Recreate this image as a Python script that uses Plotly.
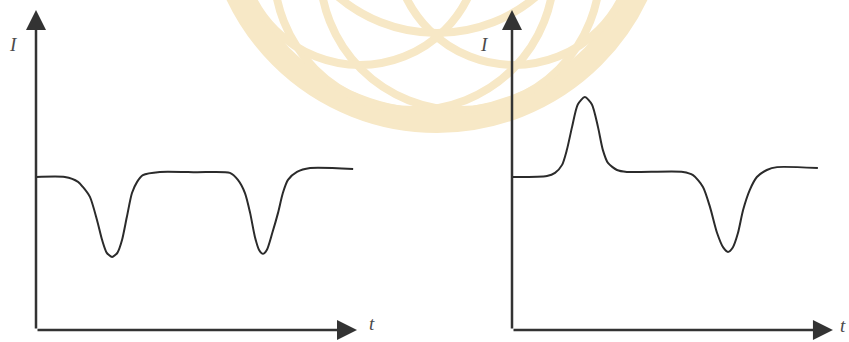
import plotly.graph_objects as go

W, H = 849, 342

# left panel: intensity with two dips
t_left = [0.0, 0.90, 1.31, 1.46, 1.68, 1.90, 2.06, 2.20, 2.37, 2.54, 2.68,
          2.83, 2.99, 3.15, 3.33, 3.86, 5.00, 6.04, 6.29, 6.51, 6.67, 6.82,
          6.95, 7.07, 7.19, 7.36, 7.54, 7.69, 7.85, 8.13, 8.54, 9.88]
i_left = [4.78, 4.78, 4.63, 4.47, 4.16, 3.44, 2.81, 2.42, 2.28, 2.42, 2.81,
          3.53, 4.28, 4.63, 4.84, 4.94, 4.93, 4.91, 4.69, 4.28, 3.66, 2.91,
          2.50, 2.38, 2.50, 3.03, 3.66, 4.28, 4.69, 4.94, 5.06, 5.03]

# right panel: one peak then one dip
t_right = [0.0, 1.09, 1.34, 1.56, 1.71, 1.87, 2.05, 2.27, 2.49, 2.68, 2.83,
           2.99, 3.27, 3.58, 5.33, 5.64, 5.95, 6.17, 6.39, 6.58, 6.73, 6.88,
           7.04, 7.20, 7.41, 7.63, 7.94, 8.26, 9.53]
i_right = [4.78, 4.81, 4.91, 5.16, 5.63, 6.34, 7.05, 7.28, 7.05, 6.34, 5.63,
           5.22, 5.00, 4.94, 4.94, 4.84, 4.47, 3.84, 3.03, 2.58, 2.44, 2.58,
           3.03, 3.75, 4.38, 4.78, 5.00, 5.09, 5.06]

axis_len = 10.0
axis_label_y = 'I'
axis_label_x = 't'

# pixel placement of each panel origin (x px, y px) and scale (px per unit)
origins = [(36, 330), (512, 330)]
# label centres relative to origin, px: (I label), (t label)
label_offsets = [((-23, -285), (336, -7)), ((-27, -285), (331, -5))]
sx, sy = 32.1, 32.0
pad_x, pad_y = 0.5, 0.3


def xdomain(ox):
    return [max((ox - pad_x * sx) / W, 0), min((ox + (axis_len + pad_x) * sx) / W, 1)]


def ydomain(oy):
    return [max(1 - (oy + pad_y * sy) / H, 0), min(1 - (oy - (axis_len + pad_y) * sy) / H, 1)]


fig = go.Figure()

line_style = dict(color='#2b2b2b', width=2, shape='spline', smoothing=0.7)
fig.add_trace(go.Scatter(x=t_left, y=i_left, mode='lines', line=line_style,
                         xaxis='x', yaxis='y', cliponaxis=False, hoverinfo='skip'))
fig.add_trace(go.Scatter(x=t_right, y=i_right, mode='lines', line=line_style,
                         xaxis='x2', yaxis='y2', cliponaxis=False, hoverinfo='skip'))

hidden = dict(visible=False, fixedrange=True)
fig.update_layout(
    xaxis=dict(domain=xdomain(origins[0][0]), range=[-pad_x, axis_len + pad_x], anchor='y', **hidden),
    yaxis=dict(domain=ydomain(origins[0][1]), range=[-pad_y, axis_len + pad_y], anchor='x', **hidden),
    xaxis2=dict(domain=xdomain(origins[1][0]), range=[-pad_x, axis_len + pad_x], anchor='y2', **hidden),
    yaxis2=dict(domain=ydomain(origins[1][1]), range=[-pad_y, axis_len + pad_y], anchor='x2', **hidden),
)

# watermark (faint logo behind the plots), in pixel units
def circle(cx, cy, r, w):
    return dict(type='circle', xref='paper', yref='paper', layer='below',
                x0=(cx - r) / W, x1=(cx + r) / W,
                y0=1 - (cy + r) / H, y1=1 - (cy - r) / H,
                line=dict(color='#f7e8c6', width=w))

shapes = [
    circle(437, -100, 221, 24),
    circle(460, -30, 140, 8),
    circle(414, -30, 140, 8),
    circle(360, -55, 120, 8),
    circle(514, -55, 120, 8),
    circle(437, -120, 153, 8),
]

annotations = []
for k, (ox, oy) in enumerate(origins):
    xr = 'x' if k == 0 else 'x2'
    yr = 'y' if k == 0 else 'y2'
    arrow = dict(xref=xr, yref=yr, axref=xr, ayref=yr, text='', showarrow=True,
                 arrowhead=2, arrowsize=1.6, arrowwidth=2.5, arrowcolor='#333333',
                 ax=0, ay=0)
    annotations.append(dict(arrow, x=axis_len, y=0))
    annotations.append(dict(arrow, x=0, y=axis_len))
    lab_font = dict(family='Liberation Serif', size=19, color='#4a4a4a')
    (iy_dx, iy_dy), (tx_dx, tx_dy) = label_offsets[k]
    annotations.append(dict(xref='paper', yref='paper', x=(ox + iy_dx) / W, y=1 - (oy + iy_dy) / H,
                            xanchor='center', yanchor='middle',
                            text='<i>' + axis_label_y + '</i>', showarrow=False, font=lab_font))
    annotations.append(dict(xref='paper', yref='paper', x=(ox + tx_dx) / W, y=1 - (oy + tx_dy) / H,
                            xanchor='center', yanchor='middle',
                            text='<i>' + axis_label_x + '</i>', showarrow=False, font=lab_font))

fig.update_layout(
    width=W, height=H,
    margin=dict(l=0, r=0, t=0, b=0),
    paper_bgcolor='white',
    plot_bgcolor='rgba(0,0,0,0)',
    showlegend=False,
    shapes=shapes,
    annotations=annotations,
)

# drop the browser's default body margin so the figure sits at the page corner
fig.write_html("out.html", config={'displayModeBar': False},
               post_script="document.body.style.margin='0';document.body.style.overflow='hidden';")
